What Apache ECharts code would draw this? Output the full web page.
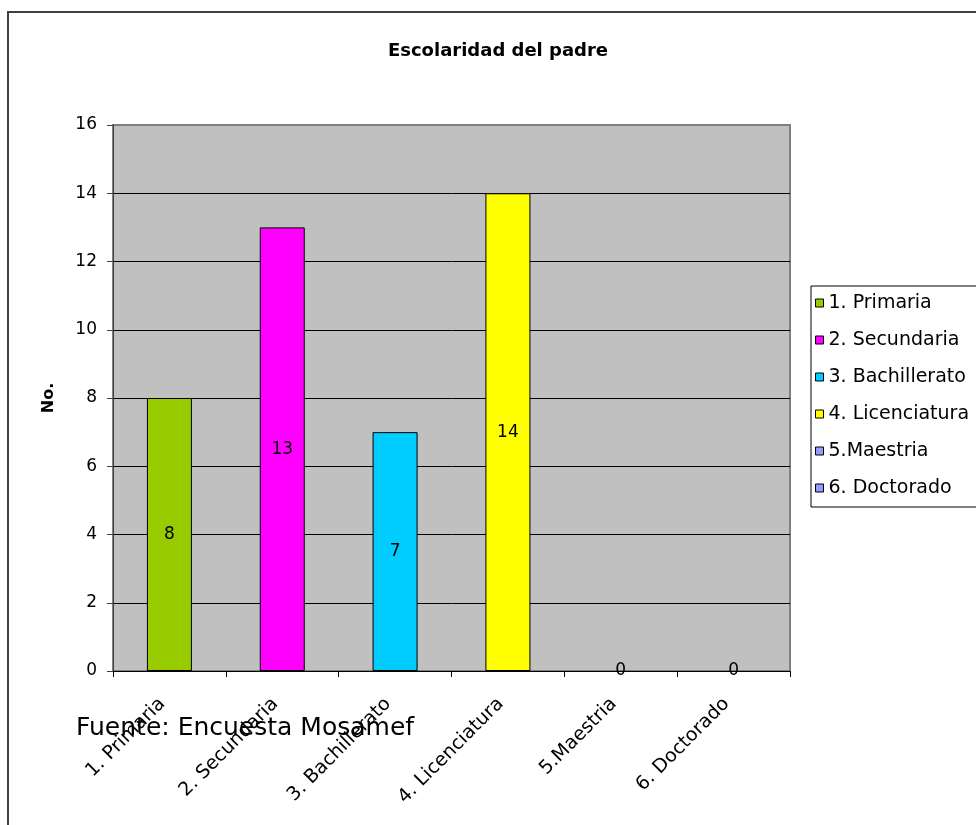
<!DOCTYPE html>
<html>
<head>
<meta charset="utf-8">
<script src="https://cdn.jsdelivr.net/npm/echarts@6/dist/echarts.min.js"></script>
<style>
  html, body { margin: 0; padding: 0; background: #ffffff; }
  #chart { width: 976px; height: 825px; }
</style>
</head>
<body>
<div id="chart"></div>
<script>
// Categories, counts and colours for the father's schooling chart
const categories = ['1. Primaria', '2. Secundaria', '3. Bachillerato', '4. Licenciatura', '5.Maestria', '6. Doctorado'];
const counts = [8, 13, 7, 14, 0, 0];
const barColors = ['#99cc00', '#ff00ff', '#00ccff', '#ffff00', '#9999ff', '#9999ff'];
const yTicks = { min: 0, max: 16, interval: 2 };

const FONT = 'DejaVu Sans';

// One series per category, stacked so each bar sits centred in its slot
const series = categories.map((name, i) => ({
  name: name,
  type: 'bar',
  stack: 'total',
  barWidth: 45,
  data: categories.map((_, j) => (j === i ? counts[i] : null)),
  itemStyle: {
    color: barColors[i],
    borderColor: '#000000',
    borderWidth: counts[i] > 0 ? 1 : 0
  },
  label: {
    show: true,
    position: 'inside',
    color: '#000000',
    fontFamily: FONT,
    fontSize: 17
  }
}));

// Gridlines are black; the line at the top of the scale takes the plot border grey
const gridLineCount = (yTicks.max - yTicks.min) / yTicks.interval + 1;
const gridLineColors = Array.from({ length: gridLineCount }, (_, k) =>
  k === gridLineCount - 1 ? '#808080' : '#000000');

const chart = echarts.init(document.getElementById('chart'));
chart.setOption({
  animation: false,
  backgroundColor: '#ffffff',
  grid: {
    left: 113, top: 125, right: 186, bottom: 154,
    show: true,
    backgroundColor: '#c0c0c0',
    borderColor: '#808080',
    borderWidth: 2
  },
  legend: {
    orient: 'vertical',
    left: 811,
    top: 286,
    padding: [7, 14, 9, 4],
    borderColor: '#000000',
    borderWidth: 1,
    backgroundColor: '#ffffff',
    icon: 'rect',
    itemWidth: 8,
    itemHeight: 8,
    itemGap: 17,
    itemStyle: { borderColor: '#000000', borderWidth: 1 },
    textStyle: { fontFamily: FONT, fontSize: 19, color: '#000000', lineHeight: 20 },
    data: categories
  },
  xAxis: {
    type: 'category',
    data: categories,
    axisLine: { lineStyle: { color: '#000000', width: 1 } },
    axisTick: { show: true, alignWithLabel: false, length: 6, lineStyle: { color: '#000000' } },
    axisLabel: {
      interval: 0,
      rotate: 45,
      margin: 23,
      padding: [0, 10, 0, 0],
      color: '#000000',
      fontFamily: FONT,
      fontSize: 19
    }
  },
  yAxis: {
    type: 'value',
    min: yTicks.min,
    max: yTicks.max,
    interval: yTicks.interval,
    name: 'No.',
    nameLocation: 'middle',
    nameRotate: 90,
    nameGap: 56,
    nameTextStyle: { fontFamily: FONT, fontSize: 16, fontWeight: 'bold', color: '#000000' },
    axisLine: { show: true, lineStyle: { color: '#404040', width: 1 } },
    axisTick: { show: true, inside: false, length: 6, lineStyle: { color: '#404040' } },
    axisLabel: { margin: 16, color: '#000000', fontFamily: FONT, fontSize: 17 },
    splitLine: { show: true, lineStyle: { color: gridLineColors, width: 1 } }
  },
  graphic: [
    {
      type: 'rect',
      z: -10,
      silent: true,
      shape: { x: 8, y: 12, width: 1000, height: 900 },
      style: { fill: 'none', stroke: '#404040', lineWidth: 2 }
    },
    {
      type: 'text',
      x: 498,
      y: 51,
      style: {
        text: 'Escolaridad del padre',
        fontFamily: FONT,
        fontSize: 18,
        fontWeight: 'bold',
        fill: '#000000',
        align: 'center',
        verticalAlign: 'middle'
      }
    },
    {
      type: 'text',
      x: 76,
      y: 728,
      z: 100,
      style: {
        text: 'Fuente: Encuesta Mosamef',
        fontFamily: FONT,
        fontSize: 25,
        fill: '#000000',
        align: 'left',
        verticalAlign: 'middle'
      }
    }
  ],
  series: series
});
</script>
</body>
</html>
